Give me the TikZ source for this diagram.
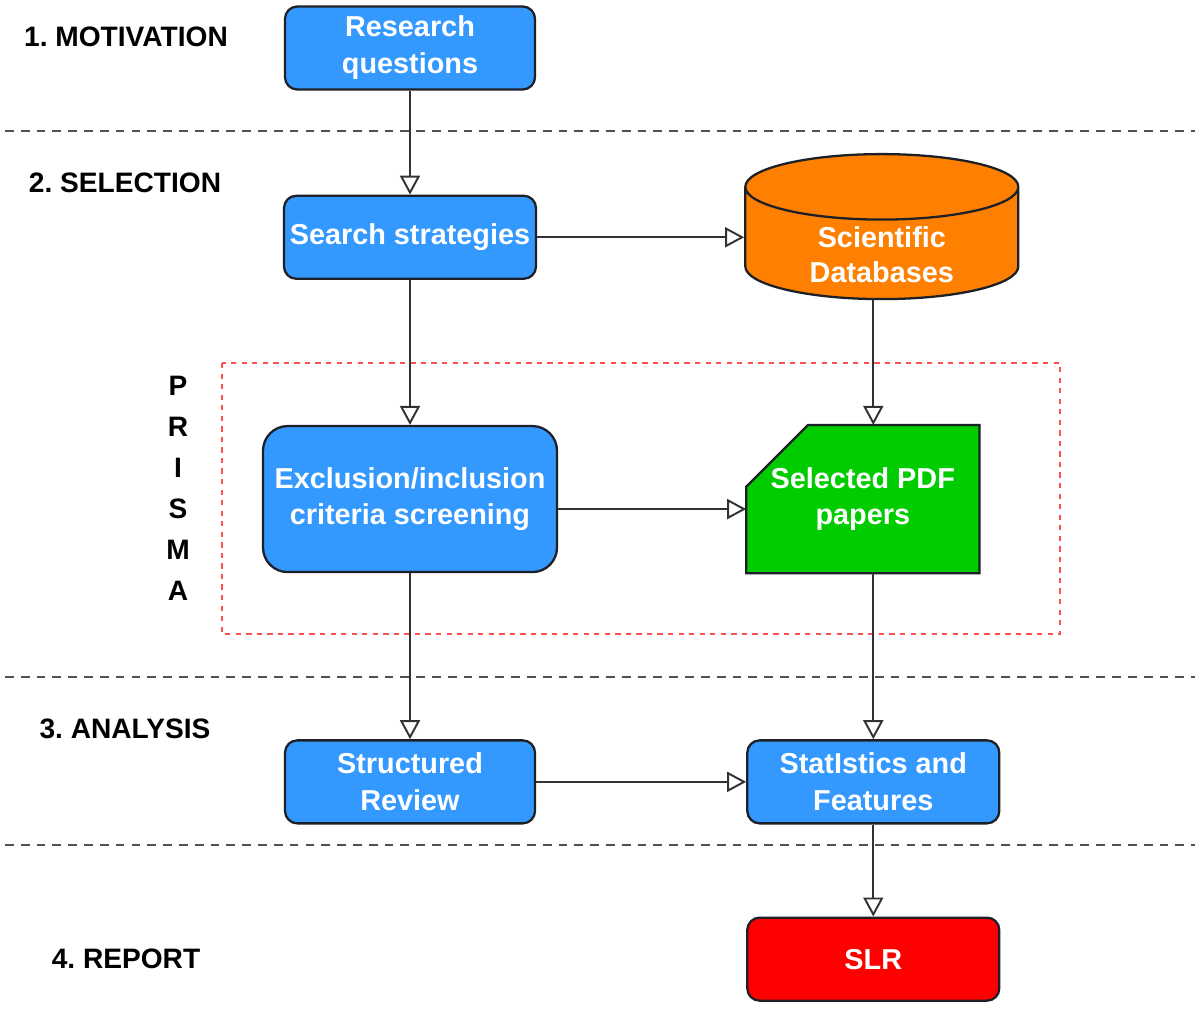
\documentclass[tikz,border=0pt]{standalone}
\usepackage{fontspec}
\setmainfont{Liberation Sans}
\usetikzlibrary{shapes.geometric,arrows.meta,positioning,calc,backgrounds}
\definecolor{boxblue}{RGB}{51,153,255}
\definecolor{boxline}{RGB}{30,32,40}
\definecolor{dborange}{RGB}{255,128,0}
\definecolor{pdfgreen}{RGB}{0,204,0}
\definecolor{slrred}{RGB}{255,0,0}
\definecolor{sepgray}{RGB}{80,80,80}
\definecolor{arrgray}{RGB}{50,50,50}
\definecolor{prismared}{RGB}{255,80,80}

\begin{document}
\begin{tikzpicture}[
    stepbox/.style={rectangle, draw=boxline, fill=boxblue, text=white,
        line width=1.3pt, minimum width=5cm, minimum height=1.66cm,
        align=center, font=\fontsize{16.4}{21}\selectfont\bfseries,
        rounded corners=7pt},
    phase/.style={font=\fontsize{16}{23.3}\selectfont\bfseries, align=center},
    sep/.style={draw=sepgray, line width=1.1pt, dash pattern=on 5pt off 4pt},
    arr/.style={-{Triangle[open, length=0.38cm, width=0.4cm]}, draw=arrgray,
        line width=1.1pt},
]
\useasboundingbox (0,0) rectangle (24,-20.18);

% phases
\node[phase] (mot) at (2.52,-0.74) {1.\ MOTIVATION};
\node[phase] (sel) at (2.5,-3.66) {2.\ SELECTION};
\node[phase] (ana) at (2.5,-14.58) {3.\ ANALYSIS};
\node[phase] (rep) at (2.52,-19.18) {4.\ REPORT};
\node[phase] (prisma) at (3.56,-9.76) {P\\R\\I\\S\\M\\A};

\draw[sep] (0.1,-2.62) -- (23.9,-2.62);
\draw[sep] (0.1,-13.54) -- (23.9,-13.54);
\draw[sep] (0.1,-16.9) -- (23.9,-16.9);
\draw[draw=prismared, line width=0.9pt, dash pattern=on 3pt off 3pt]
    (4.44,-7.26) rectangle (21.2,-12.68);

% left column
\node[stepbox] (rq) at (8.2,-0.96) {Research\\questions};
\node[stepbox, below=2.08cm of rq] (ss) {Search strategies};
\node[stepbox, below=2.9cm of ss, minimum width=5.88cm, minimum height=2.92cm,
    rounded corners=14pt] (excl) {Exclusion/inclusion\\criteria screening};
\node[stepbox, below=3.32cm of excl] (sr) {Structured\\Review};

% right column
\node[stepbox, cylinder, shape border rotate=90, aspect=0.42, rounded corners=0pt,
    fill=dborange, minimum width=5.46cm, minimum height=2.9cm,
    right=4.14cm of ss, yshift=-0.22cm] (db)
    {\raisebox{-0.34cm}[0pt][0pt]{\begin{tabular}{@{}c@{}}Scientific\\[-1pt]Databases\end{tabular}}};
\node[stepbox, draw=none, fill=none, minimum width=4.62cm, minimum height=2.92cm,
    right=3.76cm of excl] (pdf) {Selected PDF\\papers};
\begin{scope}[on background layer]
\draw[draw=boxline, fill=pdfgreen, line width=1.3pt]
    ([yshift=-1.24cm]pdf.north west) -- ([xshift=1.24cm]pdf.north west)
    -- (pdf.north east) -- (pdf.south east) -- (pdf.south west) -- cycle;
\end{scope}
\node[stepbox, right=4.2cm of sr, minimum width=5.04cm] (stats) {StatIstics and\\Features};
\node[stepbox, fill=slrred, below=1.84cm of stats, minimum width=5.04cm] (slr) {SLR};

\draw[arr] (rq) -- (ss);
\draw[arr] (ss) -- (excl);
\draw[arr] (excl) -- (sr);
\draw[arr] (ss.east) -- (ss.east -| db.west);
\draw[arr] ([yshift=-0.2cm]excl.east) -- ([yshift=-0.2cm]pdf.west);
\draw[arr] (sr) -- (stats);
\draw[arr] (db.south -| stats.north) -- (pdf.north -| stats.north);
\draw[arr] (pdf.south -| stats.north) -- (stats.north);
\draw[arr] (stats) -- (slr);
\end{tikzpicture}
\end{document}
